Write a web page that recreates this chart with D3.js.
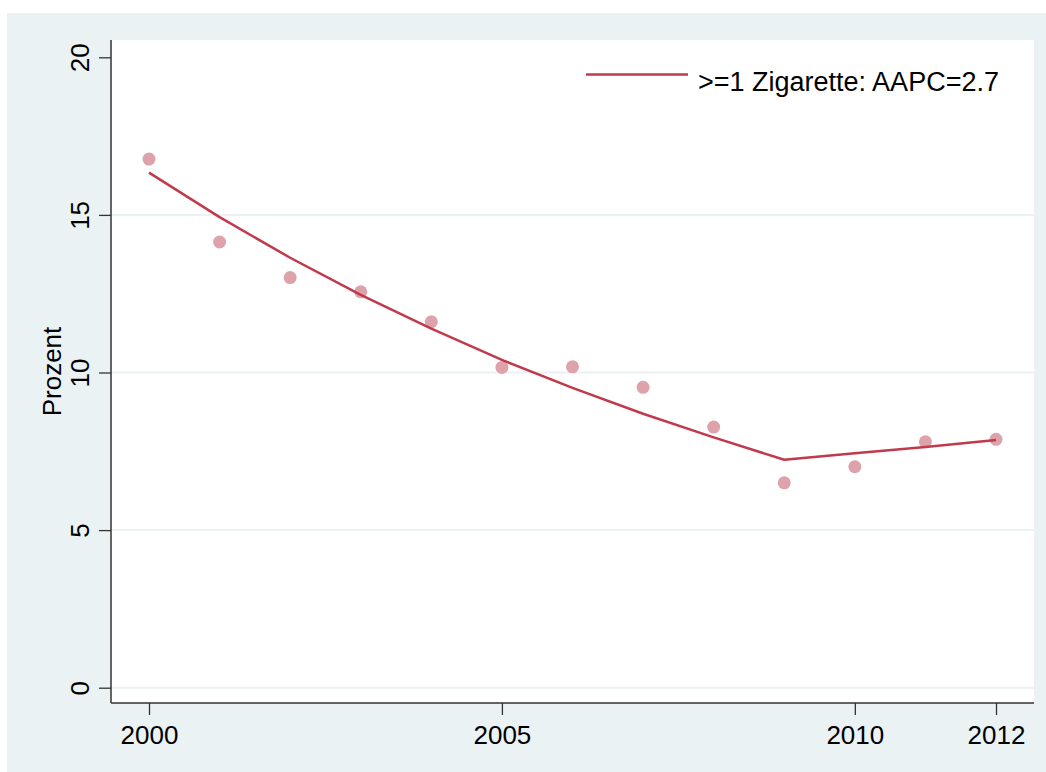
<!DOCTYPE html>
<html>
<head>
<meta charset="utf-8">
<script src="https://cdn.jsdelivr.net/npm/d3@7"></script>
<style>
  html, body { margin: 0; padding: 0; background: #fff; }
  text { font-family: "Liberation Sans", Arial, sans-serif; fill: #000; }
</style>
</head>
<body>
<div id="chart"></div>
<script>
// data
let years = [2000, 2001, 2002, 2003, 2004, 2005, 2006, 2007, 2008, 2009, 2010, 2011, 2012];
let observed = [16.77, 14.14, 13.01, 12.56, 11.61, 10.16, 10.18, 9.53, 8.27, 6.50, 7.01, 7.80, 7.88];
let fitted = [16.34, 14.93, 13.64, 12.46, 11.39, 10.40, 9.51, 8.69, 7.94, 7.23, 7.44, 7.64, 7.86];
let xTicks = [2000, 2005, 2010, 2012];
let yTicks = [0, 5, 10, 15, 20];
let gridTicks = [0, 5, 10, 15];
let legendLabel = ">=1 Zigarette: AAPC=2.7";
let yTitle = "Prozent";

let width = 1046, height = 772;
let plot = {left: 111, right: 1034, top: 40, bottom: 703};

let svg = d3.select("#chart")
    .append("svg")
    .attr("width", width)
    .attr("height", height);

// outer background
svg.append("rect")
    .attr("x", 7).attr("y", 13)
    .attr("width", width - 7).attr("height", height - 13)
    .attr("fill", "#eaf2f3");

// plot region
svg.append("rect")
    .attr("x", plot.left).attr("y", plot.top)
    .attr("width", plot.right - plot.left).attr("height", plot.bottom - plot.top)
    .attr("fill", "#fff");

let x = d3.scaleLinear().domain([2000, 2012]).range([149, 996]);
let y = d3.scaleLinear().domain([0, 20]).range([687.7, 57.3]);

// gridlines
svg.append("g").selectAll("line").data(gridTicks).enter()
    .append("line")
    .attr("x1", plot.left).attr("x2", plot.right)
    .attr("y1", d => y(d)).attr("y2", d => y(d))
    .attr("stroke", "#eaf2f3")
    .attr("stroke-width", 2);

// y axis
let yAxis = svg.append("g")
    .attr("transform", `translate(${plot.left},0)`)
    .call(d3.axisLeft(y).tickValues(yTicks).tickSize(12).tickPadding(10).tickFormat(d3.format("d")));
yAxis.select(".domain").attr("d", `M0,${plot.top}V${plot.bottom}`).attr("stroke", "#333").attr("stroke-width", 1.5);
yAxis.selectAll(".tick line").attr("stroke", "#333").attr("stroke-width", 1.3);
yAxis.selectAll(".tick text")
    .attr("font-size", 26)
    .attr("x", null).attr("dy", null)
    .attr("text-anchor", "middle")
    .attr("transform", "translate(-22,0) rotate(-90)");

// x axis
let xAxis = svg.append("g")
    .attr("transform", `translate(0,${plot.bottom})`)
    .call(d3.axisBottom(x).tickValues(xTicks).tickSize(12).tickPadding(11).tickFormat(d3.format("d")));
xAxis.select(".domain").attr("d", `M${plot.left},0H${plot.right}`).attr("stroke", "#333").attr("stroke-width", 1.5);
xAxis.selectAll(".tick line").attr("stroke", "#333").attr("stroke-width", 1.3);
xAxis.selectAll(".tick text").attr("font-size", 26).attr("dy", "0.71em");

// y axis title
svg.append("text")
    .attr("transform", `translate(61, ${(plot.top + plot.bottom) / 2}) rotate(-90)`)
    .attr("text-anchor", "middle")
    .attr("font-size", 26)
    .text(yTitle);

// observed points
svg.append("g").selectAll("circle").data(years).enter()
    .append("circle")
    .attr("cx", d => x(d))
    .attr("cy", (d, i) => y(observed[i]))
    .attr("r", 6.5)
    .attr("fill", "#dda2aa");

// fitted joinpoint line
let line = d3.line()
    .x(d => x(d))
    .y((d, i) => y(fitted[i]));
svg.append("path")
    .datum(years)
    .attr("d", line)
    .attr("fill", "none")
    .attr("stroke", "#c03a4c")
    .attr("stroke-width", 2.5)
    .attr("stroke-linejoin", "round");

// legend
svg.append("line")
    .attr("x1", 586).attr("x2", 688)
    .attr("y1", 74.5).attr("y2", 74.5)
    .attr("stroke", "#c03a4c")
    .attr("stroke-width", 2.5);
svg.append("text")
    .attr("x", 698).attr("y", 91)
    .attr("font-size", 27)
    .text(legendLabel);
</script>
</body>
</html>
